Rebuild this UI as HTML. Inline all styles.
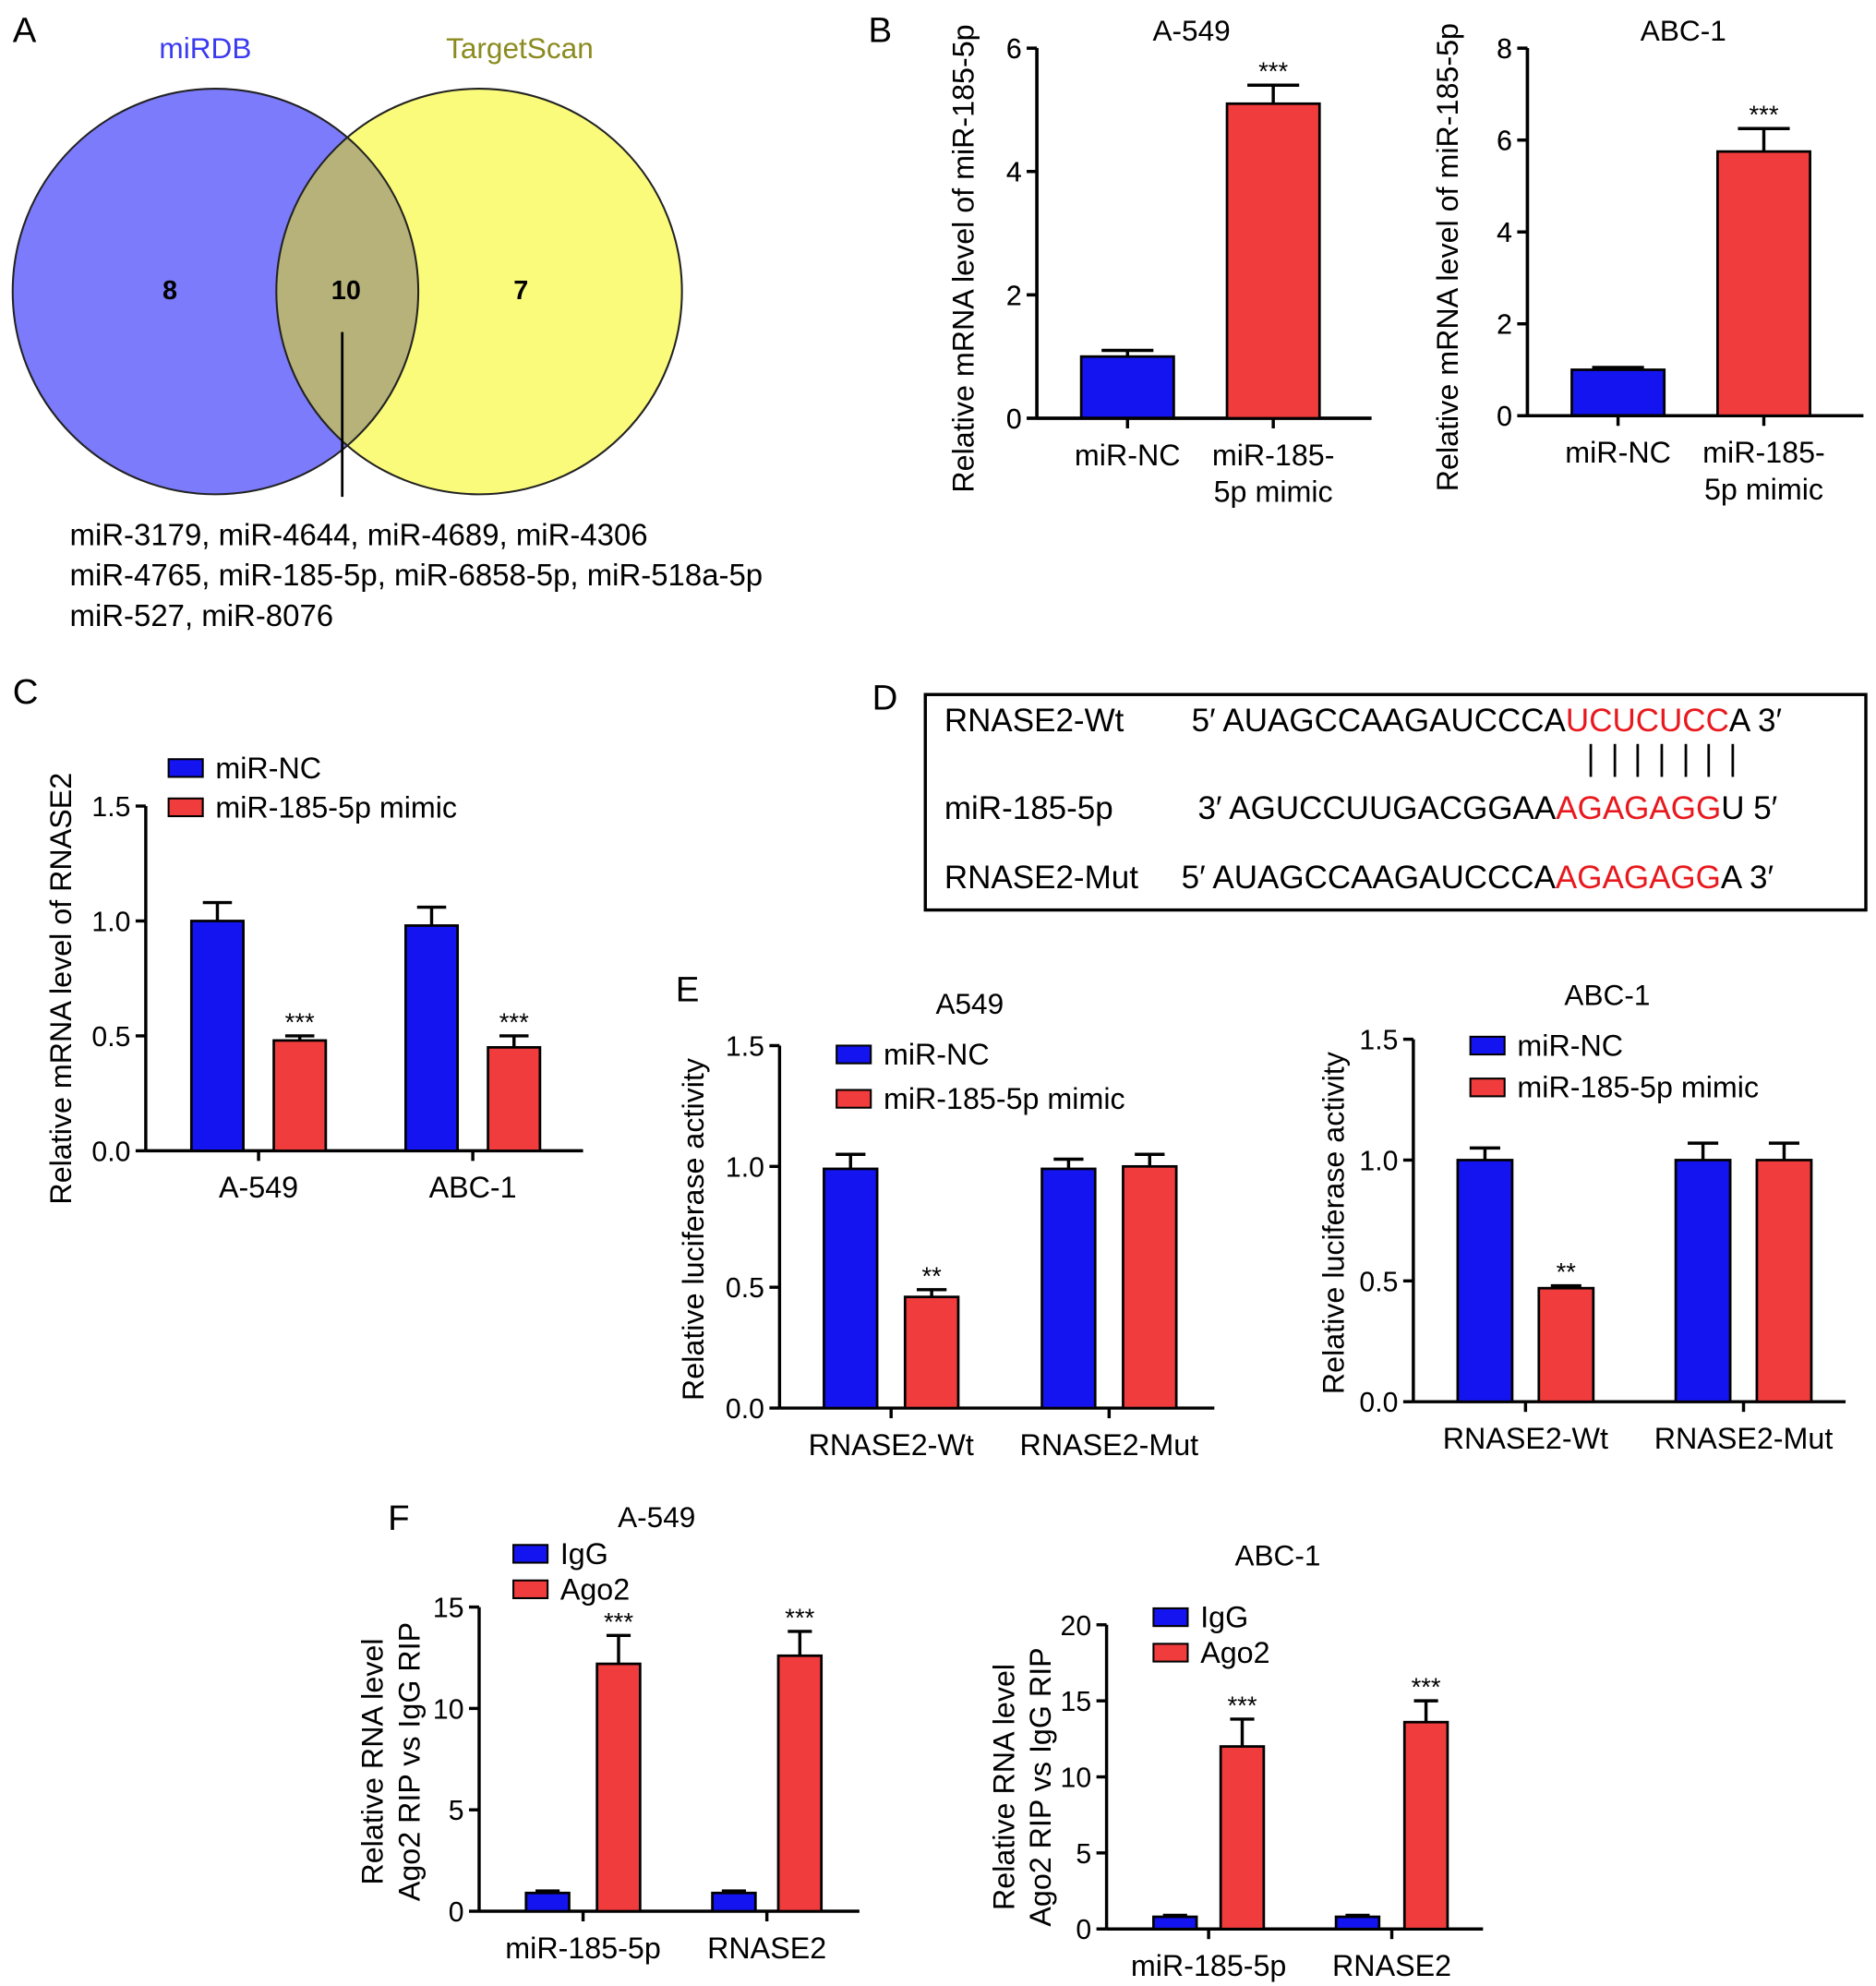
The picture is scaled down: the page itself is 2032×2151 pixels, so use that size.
<!DOCTYPE html>
<html><head><meta charset="utf-8"><style>
html,body{margin:0;padding:0;background:#fff;}
svg{display:block;font-family:"Liberation Sans",Arial,sans-serif;}
</style></head><body>
<svg id="fig" width="2032" height="2151" viewBox="0 0 1480 1567" preserveAspectRatio="none" xmlns="http://www.w3.org/2000/svg">
<defs><clipPath id="blueclip"><circle cx="170" cy="230" r="160"/></clipPath></defs>
<g>
<text x="10" y="33" font-size="28">A</text>
<circle cx="170" cy="230" r="160" fill="#7b7bfb"/>
<circle cx="378" cy="230" r="160" fill="#fbfb7b"/>
<circle cx="378" cy="230" r="160" fill="#b6b27a" clip-path="url(#blueclip)"/>
<circle cx="170" cy="230" r="160" fill="none" stroke="#222" stroke-width="1.5"/>
<circle cx="378" cy="230" r="160" fill="none" stroke="#222" stroke-width="1.5"/>
<text x="162" y="46" font-size="23" fill="#3b3bf0" text-anchor="middle">miRDB</text>
<text x="410" y="46" font-size="23" fill="#8b8b20" text-anchor="middle">TargetScan</text>
<text x="134" y="236" font-size="21" font-weight="bold" text-anchor="middle">8</text>
<text x="273" y="236" font-size="21" font-weight="bold" text-anchor="middle">10</text>
<text x="411" y="236" font-size="21" font-weight="bold" text-anchor="middle">7</text>
<line x1="270" y1="262" x2="270" y2="392" stroke="#000" stroke-width="2"/>
<g font-size="24">
<text x="55" y="430">miR-3179, miR-4644, miR-4689, miR-4306</text>
<text x="55" y="462">miR-4765, miR-185-5p, miR-6858-5p, miR-518a-5p</text>
<text x="55" y="494">miR-527, miR-8076</text>
</g>
</g>
<text x="685" y="33" font-size="28">B</text>
<text x="10" y="555" font-size="28">C</text>
<text x="688" y="560" font-size="28">D</text>
<text x="533" y="790" font-size="28">E</text>
<text x="306" y="1207" font-size="28">F</text>
<g font-size="25.5">
<rect x="730" y="548" width="742" height="170" fill="none" stroke="#000" stroke-width="2.5"/>
<text x="745" y="577">RNASE2-Wt</text>
<text x="940" y="577">5′ AUAGCCAAGAUCCCA<tspan fill="#e8191e">UCUCUCC</tspan>A 3′</text>
<g stroke="#000" stroke-width="2">
<line x1="1255" y1="587" x2="1255" y2="613"/><line x1="1274" y1="587" x2="1274" y2="613"/><line x1="1292" y1="587" x2="1292" y2="613"/><line x1="1311" y1="587" x2="1311" y2="613"/><line x1="1330" y1="587" x2="1330" y2="613"/><line x1="1348" y1="587" x2="1348" y2="613"/><line x1="1367" y1="587" x2="1367" y2="613"/>
</g>
<text x="745" y="646">miR-185-5p</text>
<text x="945" y="646">3′ AGUCCUUGACGGAA<tspan fill="#e8191e">AGAGAGG</tspan>U 5′</text>
<text x="745" y="701">RNASE2-Mut</text>
<text x="932" y="701">5′ AUAGCCAAGAUCCCA<tspan fill="#e8191e">AGAGAGG</tspan>A  3′</text>
</g>
</svg>
<script>
// Panel B
const bCats = ["miR-NC","miR-185-5p mimic"];
const bA549Vals = [1.0, 5.1];
const bA549Err = [1.1, 5.4];
const bA549Ticks = [0,2,4,6];
const bAbcVals = [1.0, 5.75];
const bAbcErr = [1.05, 6.25];
const bAbcTicks = [0,2,4,6,8];
// Panel C
const cCats = ["A-549","ABC-1"];
const cNC = [1.0, 0.98];
const cNCErr = [1.08, 1.06];
const cMimic = [0.48, 0.45];
const cMimicErr = [0.5, 0.5];
const cTicks = [0.0,0.5,1.0,1.5];
// Panel E
const eCats = ["RNASE2-Wt","RNASE2-Mut"];
const eA549NC = [0.99, 0.99];
const eA549NCErr = [1.05, 1.03];
const eA549Mimic = [0.46, 1.0];
const eA549MimicErr = [0.49, 1.05];
const eAbcNC = [1.0, 1.0];
const eAbcNCErr = [1.05, 1.07];
const eAbcMimic = [0.47, 1.0];
const eAbcMimicErr = [0.48, 1.07];
const eTicks = [0.0,0.5,1.0,1.5];
// Panel F
const fCats = ["miR-185-5p","RNASE2"];
const fA549IgG = [0.9, 0.9];
const fA549IgGErr = [1.0, 1.0];
const fA549Ago = [12.2, 12.6];
const fA549AgoErr = [13.6, 13.8];
const fA549Ticks = [0,5,10,15];
const fAbcIgG = [0.8, 0.8];
const fAbcIgGErr = [0.9, 0.9];
const fAbcAgo = [12.0, 13.6];
const fAbcAgoErr = [13.8, 15.0];
const fAbcTicks = [0,5,10,15,20];

const NS="http://www.w3.org/2000/svg";
const svg=document.getElementById('fig');
const BLUE="#1414f0", RED="#f03c3c";
function mk(tag,attrs,parent,text){const e=document.createElementNS(NS,tag);for(const k in attrs)e.setAttribute(k,attrs[k]);if(text!==undefined)e.textContent=text;(parent||svg).appendChild(e);return e;}

function chart(c){
  const g=mk('g',{});
  
  
  const max=c.ticks[c.ticks.length-1];
  const y=v=>c.y0-(v/max)*(c.y0-c.yTop);
  const ya=mk('line',{x1:c.x0,y1:c.yTop,x2:c.x0,y2:c.y0,stroke:'#000','stroke-width':2.5},g);
  
  
  const xa=mk('line',{x1:c.x0,y1:c.y0,x2:c.x1,y2:c.y0,stroke:'#000','stroke-width':2.5},g);
  
  
  c.ticks.forEach(t=>{
    mk('line',{x1:c.x0-8,y1:y(t),x2:c.x0,y2:y(t),stroke:'#000','stroke-width':2.5},g);
    const tl=mk('text',{x:c.x0-12,y:y(t)+8,'font-size':22,'text-anchor':'end'},g,c.fmt?t.toFixed(1):String(t));
    
    
  });
  c.series.forEach((s,si)=>{
    s.vals.forEach((v,i)=>{
      const x=c.barX[i][si];
      const top=y(v), et=y(s.err[i]);
      const cx=x+c.bw/2;
      mk('line',{x1:cx,y1:top,x2:cx,y2:et,stroke:'#000','stroke-width':2.5},g);
      mk('line',{x1:cx-c.bw*0.28,y1:et,x2:cx+c.bw*0.28,y2:et,stroke:'#000','stroke-width':2.5},g);
      const r=mk('rect',{x:x,y:top,width:c.bw,height:c.y0-top,fill:s.color,stroke:'#000','stroke-width':2},g);
      
      
      if(s.stars&&s.stars[i]){
        const st=mk('text',{x:cx,y:et-4,'font-size':20,'text-anchor':'middle'},g,s.stars[i]);
        
        
      }
    });
  });
  c.cats.forEach((cat,i)=>{
    const cx=(c.barX[i][0]+c.barX[i][c.series.length-1]+c.bw)/2;
    const lines=c.catLines?c.catLines[i]:[cat];
    if(c.catTick) mk('line',{x1:cx,y1:c.y0,x2:cx,y2:c.y0+8,stroke:'#000','stroke-width':2.5},g);
    lines.forEach((ln,j)=>{
      const t=mk('text',{x:cx,y:c.y0+37+j*29,'font-size':23.5,'text-anchor':'middle'},g,ln);
      
      
    });
  });
  if(c.title){const t=mk('text',{x:c.title[1],y:c.title[2],'font-size':23,'text-anchor':'middle'},g,c.title[0]);
    
    }
  c.ylab.forEach((ln,j)=>{
    const t=mk('text',{x:0,y:0,'font-size':23.5,'text-anchor':'middle',transform:`translate(${c.ylx+j*29},${c.yly}) rotate(-90)`},g,ln);
    
    
  });
  if(c.legend){
    c.series.forEach((s,si)=>{
      const ly=c.legend[1]+si*c.legend[2];
      const r=mk('rect',{x:c.legend[0],y:ly-7,width:27,height:14,fill:s.color,stroke:'#000','stroke-width':1.5},g);
      
      
      const t=mk('text',{x:c.legend[0]+37,y:ly+8,'font-size':23.5},g,s.label);
      
      
    });
  }
}
function bChart(name,x0,x1,yTop,y0,vals,err,ticks,title,tx,ylx){
  chart({name,x0,x1,yTop,y0,ticks,cats:bCats,bw:73,catTick:true,
    catLines:[["miR-NC"],["miR-185-","5p mimic"]],
    barX:[[x0+35],[x0+150]],
    series:[{key:'value',vals:[vals[0]],err:[err[0]],color:BLUE}],
    title:[title,tx,32],ylab:["Relative mRNA level of miR-185-5p"],ylx,yly:(yTop+y0)/2+20});
  chart({name:name+'-mimic',x0,x1,yTop,y0,ticks,cats:[bCats[1]],bw:73,catTick:false,catLines:[[]],
    barX:[[x0+150]],series:[{key:'value',vals:[vals[1]],err:[err[1]],color:RED,stars:['***']}],ylab:[]});
}
bChart('chart-b-a549',818,1082,38,330,bA549Vals,bA549Err,bA549Ticks,'A-549',940,768);
bChart('chart-b-abc1',1205,1470,38,328,bAbcVals,bAbcErr,bAbcTicks,'ABC-1',1328,1150);

chart({name:'chart-c',x0:115,x1:460,yTop:636,y0:908,ticks:cTicks,fmt:true,cats:cCats,bw:41,catTick:true,
  barX:[[151,216],[320,385]],
  series:[{key:'nc',label:'miR-NC',vals:cNC,err:cNCErr,color:BLUE},{key:'mimic',label:'miR-185-5p mimic',vals:cMimic,err:cMimicErr,color:RED,stars:['***','***']}],
  legend:[133,606,31],ylab:["Relative mRNA level of RNASE2"],ylx:56,yly:780});

chart({name:'chart-e-a549',x0:615,x1:958,yTop:825,y0:1111,ticks:eTicks,fmt:true,cats:eCats,bw:42,catTick:true,
  barX:[[650,714],[822,886]],title:['A549',765,800],
  series:[{key:'nc',label:'miR-NC',vals:eA549NC,err:eA549NCErr,color:BLUE},{key:'mimic',label:'miR-185-5p mimic',vals:eA549Mimic,err:eA549MimicErr,color:RED,stars:['**','']}],
  legend:[660,832,35],ylab:["Relative luciferase activity"],ylx:555,yly:970});

chart({name:'chart-e-abc1',x0:1115,x1:1456,yTop:820,y0:1106,ticks:eTicks,fmt:true,cats:eCats,bw:43,catTick:true,
  barX:[[1150,1214],[1322,1386]],title:['ABC-1',1268,793],
  series:[{key:'nc',label:'miR-NC',vals:eAbcNC,err:eAbcNCErr,color:BLUE},{key:'mimic',label:'miR-185-5p mimic',vals:eAbcMimic,err:eAbcMimicErr,color:RED,stars:['**','']}],
  legend:[1160,825,33],ylab:["Relative luciferase activity"],ylx:1060,yly:965});

chart({name:'chart-f-a549',x0:378,x1:678,yTop:1268,y0:1508,ticks:fA549Ticks,cats:fCats,bw:34,catTick:true,
  barX:[[415,471],[562,614]],title:['A-549',518,1205],
  series:[{key:'igg',label:'IgG',vals:fA549IgG,err:fA549IgGErr,color:BLUE},{key:'ago2',label:'Ago2',vals:fA549Ago,err:fA549AgoErr,color:RED,stars:['***','***']}],
  legend:[405,1226,28],ylab:["Relative RNA level","Ago2 RIP vs IgG RIP"],ylx:302,yly:1390});

chart({name:'chart-f-abc1',x0:873,x1:1170,yTop:1282,y0:1522,ticks:fAbcTicks,cats:fCats,bw:34,catTick:true,
  barX:[[910,963],[1054,1108]],title:['ABC-1',1008,1235],
  series:[{key:'igg',label:'IgG',vals:fAbcIgG,err:fAbcIgGErr,color:BLUE},{key:'ago2',label:'Ago2',vals:fAbcAgo,err:fAbcAgoErr,color:RED,stars:['***','***']}],
  legend:[910,1276,28],ylab:["Relative RNA level","Ago2 RIP vs IgG RIP"],ylx:800,yly:1410});
</script>
</body></html>
